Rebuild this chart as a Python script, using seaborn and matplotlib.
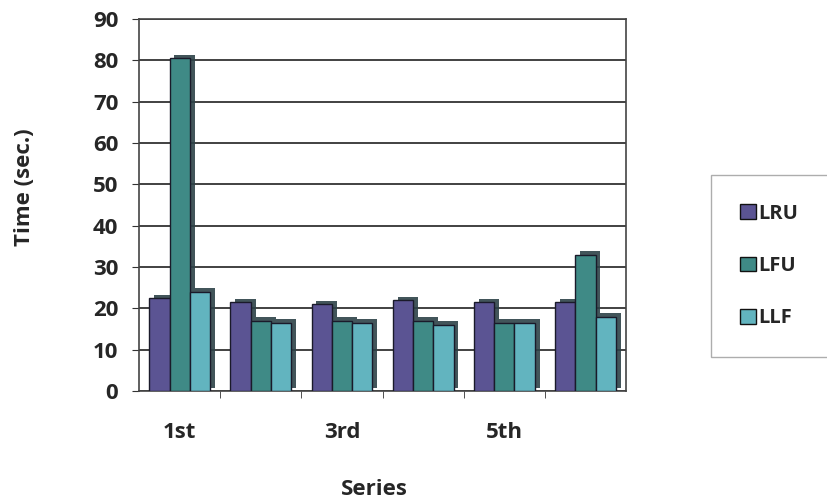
import numpy as np
import pandas as pd
import matplotlib
matplotlib.use("Agg")
import matplotlib.pyplot as plt
import matplotlib.patheffects as pe
import seaborn as sns

# --- data ---
series = ["1st", "2nd", "3rd", "4th", "5th", "6th"]
lru = [22.5, 21.5, 21.0, 22.0, 21.5, 21.5]
lfu = [80.5, 17.0, 17.0, 17.0, 16.5, 33.0]
llf = [24.0, 16.5, 16.5, 16.0, 16.5, 18.0]
policies = ["LRU", "LFU", "LLF"]
shown_labels = ["1st", "", "3rd", "", "5th", ""]
colors = ["#5B5493", "#3F8A86", "#62B4BF"]

df = pd.DataFrame({"Series": series, "LRU": lru, "LFU": lfu, "LLF": llf})
df_long = df.melt(id_vars="Series", var_name="Policy", value_name="Time")

sns.set_style("white")
plt.rcParams["font.family"] = ["Open Sans", "DejaVu Sans"]

fig = plt.figure(figsize=(8.28, 4.99), dpi=100)
ax = fig.add_axes([0.168, 0.2164, 0.588, 0.7455])

sns.barplot(data=df_long, x="Series", y="Time", hue="Policy", hue_order=policies,
            palette=colors, width=0.75, edgecolor="#1a1a2a", linewidth=1.0,
            saturation=1, ax=ax, zorder=3)

# fake 3D depth: dark offset shadow behind each bar
for bar in ax.patches:
    bar.set_path_effects([pe.SimplePatchShadow(offset=(3.5, 2.5), shadow_rgbFace="#2d4248", alpha=0.9),
                          pe.Normal()])

ax.set_ylim(0, 90)
ax.set_yticks(range(0, 91, 10))
ax.set_xlim(-0.5, 5.5)
ax.yaxis.grid(True, color="#333333", linewidth=1.3, zorder=0)
ax.set_axisbelow(True)

ax.set_xticks(range(len(series)))
ax.set_xticklabels(shown_labels, fontsize=16, fontweight="bold")
ax.tick_params(axis="x", length=0, pad=22)
ax.set_xticks(np.arange(0.5, 5.5, 1.0), minor=True)
ax.tick_params(axis="x", which="minor", length=5, color="#333333", direction="out", bottom=True)
ax.tick_params(axis="y", labelsize=16, length=5, color="#333333", direction="out", left=True, pad=10)
for lab in ax.get_yticklabels():
    lab.set_fontweight("bold")

for sp in ax.spines.values():
    sp.set_color("#444444")
    sp.set_linewidth(1.2)

ax.set_xlabel("")
ax.set_ylabel("")
fig.text(0.030, 0.625, "Time (sec.)", rotation=90, ha="center", va="center",
         fontsize=16, fontweight="bold")
fig.text(0.452, 0.020, "Series", ha="center", va="center", fontsize=16, fontweight="bold")

handles, labels = ax.get_legend_handles_labels()
leg = fig.legend(handles, labels, loc="center left", bbox_to_anchor=(0.859, 0.467),
                 bbox_transform=fig.transFigure,
                 frameon=True, fancybox=False, edgecolor="#999999",
                 handlelength=0.75, handleheight=0.75, handletextpad=0.15,
                 labelspacing=1.6, borderpad=1.45, borderaxespad=0,
                 prop={"weight": "bold", "size": 14.5})
ax.get_legend().remove()
for h in leg.legend_handles:
    h.set_path_effects([])
    h.set_edgecolor("#111111")

fig.savefig("out.png", dpi=100)
